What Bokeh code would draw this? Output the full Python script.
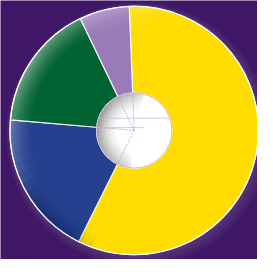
import math
from bokeh.plotting import figure
from bokeh.models import Range1d, ColumnDataSource
from bokeh.embed import file_html
from bokeh.resources import INLINE

# ---- data ----
categories = ["Yellow", "Blue", "Green", "Purple"]
values = [58.0, 19.0, 16.5, 6.5]
colors = ["#FFDD00", "#24408E", "#006230", "#9A7AB8"]

BG = "#3F1766"
R_OUT = 132
R_IN = 40
START = math.pi / 2 + 0.04  # slightly left of 12 o'clock, going clockwise

total = sum(values)
starts, ends = [], []
a = START
for v in values:
    span = 2 * math.pi * v / total
    starts.append(a)
    ends.append(a - span)
    a -= span

src = ColumnDataSource(dict(cat=categories, val=values, color=colors,
                            start=starts, end=ends))

W, H = 257, 259
p = figure(width=W, height=H, output_backend="svg", toolbar_location=None,
           x_range=Range1d(-142, 273 - 142), y_range=Range1d(138 - 275, 138),
           min_border=0)
p.axis.visible = False
p.xgrid.grid_line_color = None
p.ygrid.grid_line_color = None
p.outline_line_color = None
p.background_fill_color = BG
p.border_fill_color = BG

# soft glow around the pie (lower right)
for (dx, rr, al) in [(4, R_OUT + 8, 0.25), (3, R_OUT + 5, 0.35), (2, R_OUT + 2, 0.45)]:
    p.circle(x=dx, y=-dx, radius=rr, fill_color="#5A3C7C", fill_alpha=al, line_color=None)

# slices
p.annular_wedge(x=0, y=0, inner_radius=R_IN, outer_radius=R_OUT,
                start_angle="start", end_angle="end", direction="clock",
                fill_color="color", line_color="white", line_width=1.2,
                line_alpha=0.9, source=src)


def shade(r_lo, r_hi, th_lo, th_hi, th_peak, amax, color, rpow=1.6, tpow=0.7,
          dr=2.0, dth=5.0):
    """Grid of small wedges approximating a soft gradient (stronger outward)."""
    d = dict(r0=[], r1=[], s=[], e=[], al=[])
    r = r_lo
    while r < r_hi - 1e-6:
        r1 = min(r + dr, r_hi)
        rm = (r + r1) / 2
        fr = ((rm - r_lo) / (r_hi - r_lo)) ** rpow
        t = th_lo
        while t < th_hi - 1e-6:
            t1 = min(t + dth, th_hi)
            tm = (t + t1) / 2
            if tm <= th_peak:
                ft = (tm - th_lo) / (th_peak - th_lo)
            else:
                ft = (th_hi - tm) / (th_hi - th_peak)
            ft = max(0.0, min(1.0, ft)) ** tpow
            d["r0"].append(r)
            d["r1"].append(r1)
            d["s"].append(math.radians(t))
            d["e"].append(math.radians(t1))
            d["al"].append(amax * fr * ft)
            t = t1
        r = r1
    p.annular_wedge(x=0, y=0, inner_radius="r0", outer_radius="r1",
                    start_angle="s", end_angle="e", fill_color=color,
                    fill_alpha="al", line_color=None,
                    source=ColumnDataSource(d))


# glossy highlight on the upper-left edge
shade(106, R_OUT, 70, 215, 150, 0.48, "white")
# darker shading at lower-left edge
shade(112, R_OUT, 200, 250, 228, 0.45, "#07103A")

# center hole with grey shading on its left
p.circle(x=0, y=0, radius=R_IN, fill_color="white", line_color="#C9BCDD",
         line_width=1)
shade(16, R_IN - 0.5, 75, 265, 160, 0.72, "#555555", rpow=1.8, tpow=0.4, dr=1.5)

# faint leader lines inside the hole
lx, ly = [], []
for s in starts:
    lx.append([0, R_IN * math.cos(s)])
    ly.append([0, R_IN * math.sin(s)])
p.multi_line(xs=lx, ys=ly, line_color="#B9A6D6", line_width=1,
             line_dash="2 1", line_alpha=0.8)
# faint horizontal lines inside the hole
p.segment(x0=[-38, -40], y0=[13, 3], x1=[38, 10], y1=[13, 3],
          line_color="#C9B8E0", line_width=1, line_alpha=0.8)

# outer rim outline
p.circle(x=0, y=0, radius=R_OUT, fill_color=None, line_color="white",
         line_width=1.2, line_alpha=0.85)

open("out.html", "w").write(file_html(p, INLINE))
